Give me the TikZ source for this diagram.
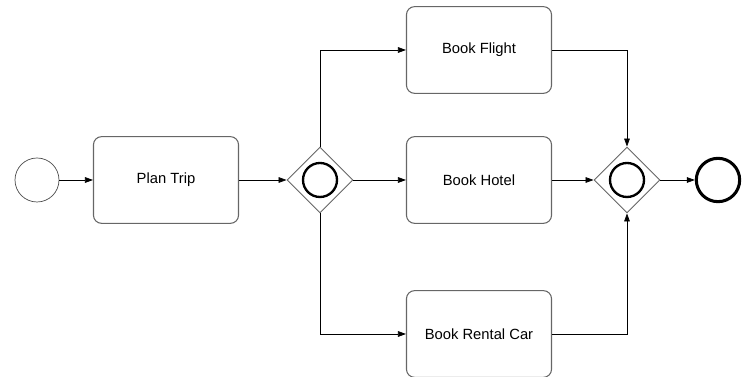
\documentclass[tikz,border=0pt]{standalone}
\usepackage{fontspec}
\setmainfont{Liberation Sans}
\usetikzlibrary{positioning,arrows.meta,shapes.geometric}

\begin{document}
\begin{tikzpicture}[x=0.03cm, y=-0.03cm,
    font=\fontsize{12.6}{15}\selectfont,
    task/.style={draw=black!60, line width=0.9pt, rounded corners=0.24cm,
                 minimum width=4.35cm, minimum height=2.6cm},
    gate/.style={draw=black!60, line width=0.8pt, diamond, inner sep=0pt,
                 minimum size=1.98cm},
    ring/.style={draw, circle, line width=2pt, minimum size=1.02cm},
    flow/.style={-{Triangle[length=2.4mm,width=1.7mm]}, line width=0.6pt}]
  \useasboundingbox (0,0) rectangle (747,377);
  \node[draw=black!70, circle, line width=0.6pt, minimum size=1.32cm] (start) at (37,180) {};
  \node[task] (plan) at (166,180) {Plan Trip};
  \node[gate] (split) at (320,180) {};
  \node[ring] at (split) {};
  \node[task] (flight) at (479,50) {Book Flight};
  \node[task] (hotel) at (479,180) {Book Hotel};
  \node[task] (car) at (479,334) {Book Rental Car};
  \node[gate] (join) at (627,180) {};
  \node[ring] at (join) {};
  \node[draw, circle, line width=2.6pt, minimum size=1.3cm] (finish) at (718,180) {};
  % sequence flows
  \draw[flow] (start) -- (plan);
  \draw[flow] (plan) -- (split);
  \draw[flow] (split.north) |- (flight);
  \draw[flow] (split) -- (hotel);
  \draw[flow] (split.south) |- (car);
  \draw[flow] (flight) -| (join.north);
  \draw[flow] (hotel) -- (join);
  \draw[flow] (car) -| (join.south);
  \draw[flow] (join) -- (finish);
\end{tikzpicture}
\end{document}
